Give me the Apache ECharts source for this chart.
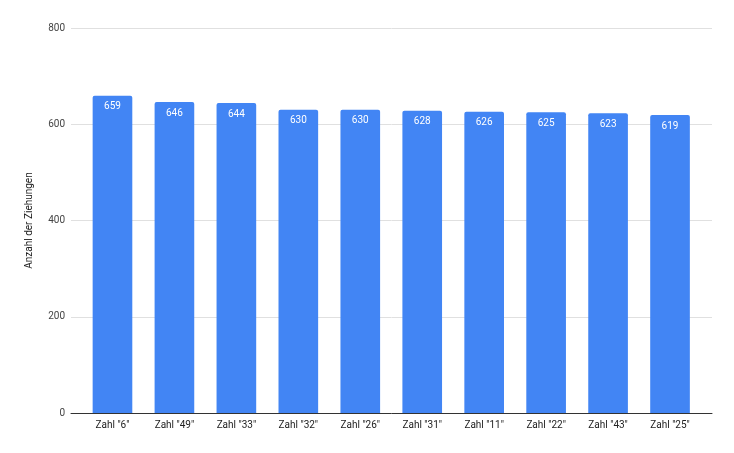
<!DOCTYPE html>
<html>
<head>
<meta charset="utf-8">
<script src="https://cdn.jsdelivr.net/npm/echarts@6/dist/echarts.min.js"></script>
<style>
html, body { margin: 0; padding: 0; background: #fff; }
#main { width: 734px; height: 453px; }
</style>
</head>
<body>
<div id="main"></div>
<script>
var chartDom = document.getElementById('main');
var myChart = echarts.init(chartDom);

var categories = ['Zahl "6"', 'Zahl "49"', 'Zahl "33"', 'Zahl "32"', 'Zahl "26"', 'Zahl "31"', 'Zahl "11"', 'Zahl "22"', 'Zahl "43"', 'Zahl "25"'];
var draws = [659, 646, 644, 630, 630, 628, 626, 625, 623, 619];
var yName = 'Anzahl der Ziehungen';

// grid 0: gridlines + axes over the full width, grid 1: the bars (a bit inset, like the original)
var option = {
    animation: false,
    textStyle: { fontFamily: 'Roboto' },
    grid: [
        { left: 71, right: 22, top: 28, bottom: 40 },
        { left: 81.5, right: 33, top: 28, bottom: 40 }
    ],
    xAxis: [{
        gridIndex: 0,
        type: 'category',
        data: categories,
        axisTick: { show: false },
        axisLabel: { show: false },
        axisLine: { lineStyle: { color: '#333', width: 1 } }
    }, {
        gridIndex: 1,
        type: 'category',
        data: categories,
        axisTick: { show: false },
        axisLine: { show: false },
        axisLabel: { color: '#222', fontSize: 10, margin: 7 }
    }],
    yAxis: [{
        gridIndex: 0,
        type: 'value',
        min: 0,
        max: 800,
        interval: 200,
        name: yName,
        nameLocation: 'middle',
        nameGap: 37,
        nameTextStyle: { color: '#222', fontSize: 10 },
        axisLabel: { color: '#444', fontSize: 10, margin: 6 },
        splitLine: { lineStyle: { color: '#e0e0e0', width: 1 } }
    }, {
        gridIndex: 1,
        type: 'value',
        min: 0,
        max: 800,
        interval: 200,
        show: false,
        splitLine: { show: false }
    }],
    series: [{
        type: 'bar',
        xAxisIndex: 1,
        yAxisIndex: 1,
        data: draws,
        barWidth: '64%',
        itemStyle: { color: '#4285f4', borderRadius: [2, 2, 0, 0] },
        label: {
            show: true,
            position: 'insideTop',
            distance: 6,
            color: '#fff',
            fontSize: 10
        }
    }]
};
option && myChart.setOption(option);
</script>
</body>
</html>
